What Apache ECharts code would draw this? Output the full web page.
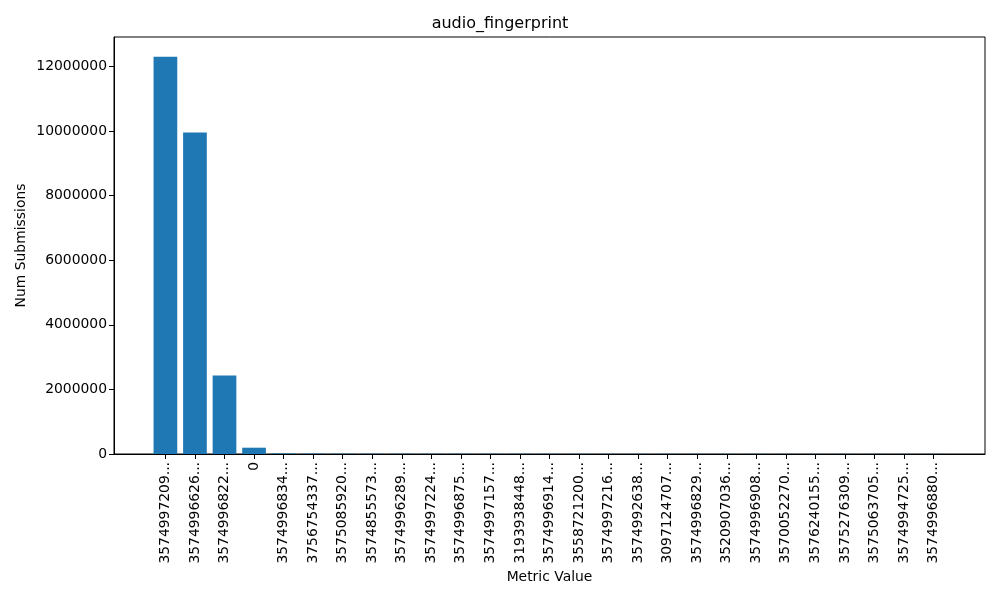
<!DOCTYPE html>
<html><head><meta charset="utf-8">
<script src="https://cdn.jsdelivr.net/npm/echarts@6/dist/echarts.min.js"></script>
<style>html,body{margin:0;padding:0;background:#fff}#c{width:1000px;height:600px}</style>
</head><body><div id="c"></div>
<script>
const categories = ['3574997209...','3574996626...','3574996822...','0','3574996834...','3756754337...','3575085920...','3574855573...','3574996289...','3574997224...','3574996875...','3574997157...','3193938448...','3574996914...','3558721200...','3574997216...','3574992638...','3097124707...','3574996829...','3520907036...','3574996908...','3570052270...','3576240155...','3575276309...','3575063705...','3574994725...','3574996880...'];
const submissions = [12300000,9950000,2430000,195000,16000,14000,12000,11000,10000,9000,8500,8000,7500,7000,6500,6000,5800,5500,5200,5000,4800,4600,4400,4200,4000,3800,3600];
const yTicks = [0,2000000,4000000,6000000,8000000,10000000,12000000];

const font = 'DejaVu Sans';
const chart = echarts.init(document.getElementById('c'), null, {renderer:'canvas'});
const idx = categories.map((_, i) => i);
chart.setOption({
  animation: false,
  title: {text: 'audio_fingerprint', left: 'center', top: 11,
    textStyle: {fontFamily: font, fontSize: 16, fontWeight: 'normal', color: '#000'}},
  grid: {left: 114, right: 15, top: 37, bottom: 146, show: true, borderColor: '#000', borderWidth: 1, backgroundColor: 'transparent'},
  xAxis: {
    type: 'value', min: -1.74, max: 27.74,
    name: 'Metric Value', nameLocation: 'middle', nameGap: 116, nameMoveOverlap: false,
    nameTextStyle: {fontFamily: font, fontSize: 13.9, color: '#000'},
    axisLine: {show: true, onZero: false, lineStyle: {color: '#000', width: 1}},
    splitLine: {show: false},
    axisTick: {show: true, customValues: idx, length: 5, lineStyle: {color: '#000'}},
    axisLabel: {customValues: idx, rotate: 90, margin: 8, fontFamily: font, fontSize: 13.9, color: '#000',
      formatter: v => categories[Math.round(v)] ?? ''}
  },
  yAxis: {
    type: 'value', min: 0, max: 12910000,
    name: 'Num Submissions', nameLocation: 'middle', nameGap: 86, nameMoveOverlap: false,
    nameTextStyle: {fontFamily: font, fontSize: 13.9, color: '#000'},
    axisLine: {show: true, onZero: false, lineStyle: {color: '#000', width: 1}},
    splitLine: {show: false},
    axisTick: {show: true, customValues: yTicks, length: 5, lineStyle: {color: '#000'}},
    axisLabel: {customValues: yTicks, margin: 7, fontFamily: font, fontSize: 13.9, color: '#000',
      formatter: v => String(v)}
  },
  series: [{
    type: 'bar', barWidth: 23.7,
    itemStyle: {color: '#1f77b4', borderWidth: 0},
    data: submissions.map((v, i) => [i, v])
  }]
});
</script></body></html>
